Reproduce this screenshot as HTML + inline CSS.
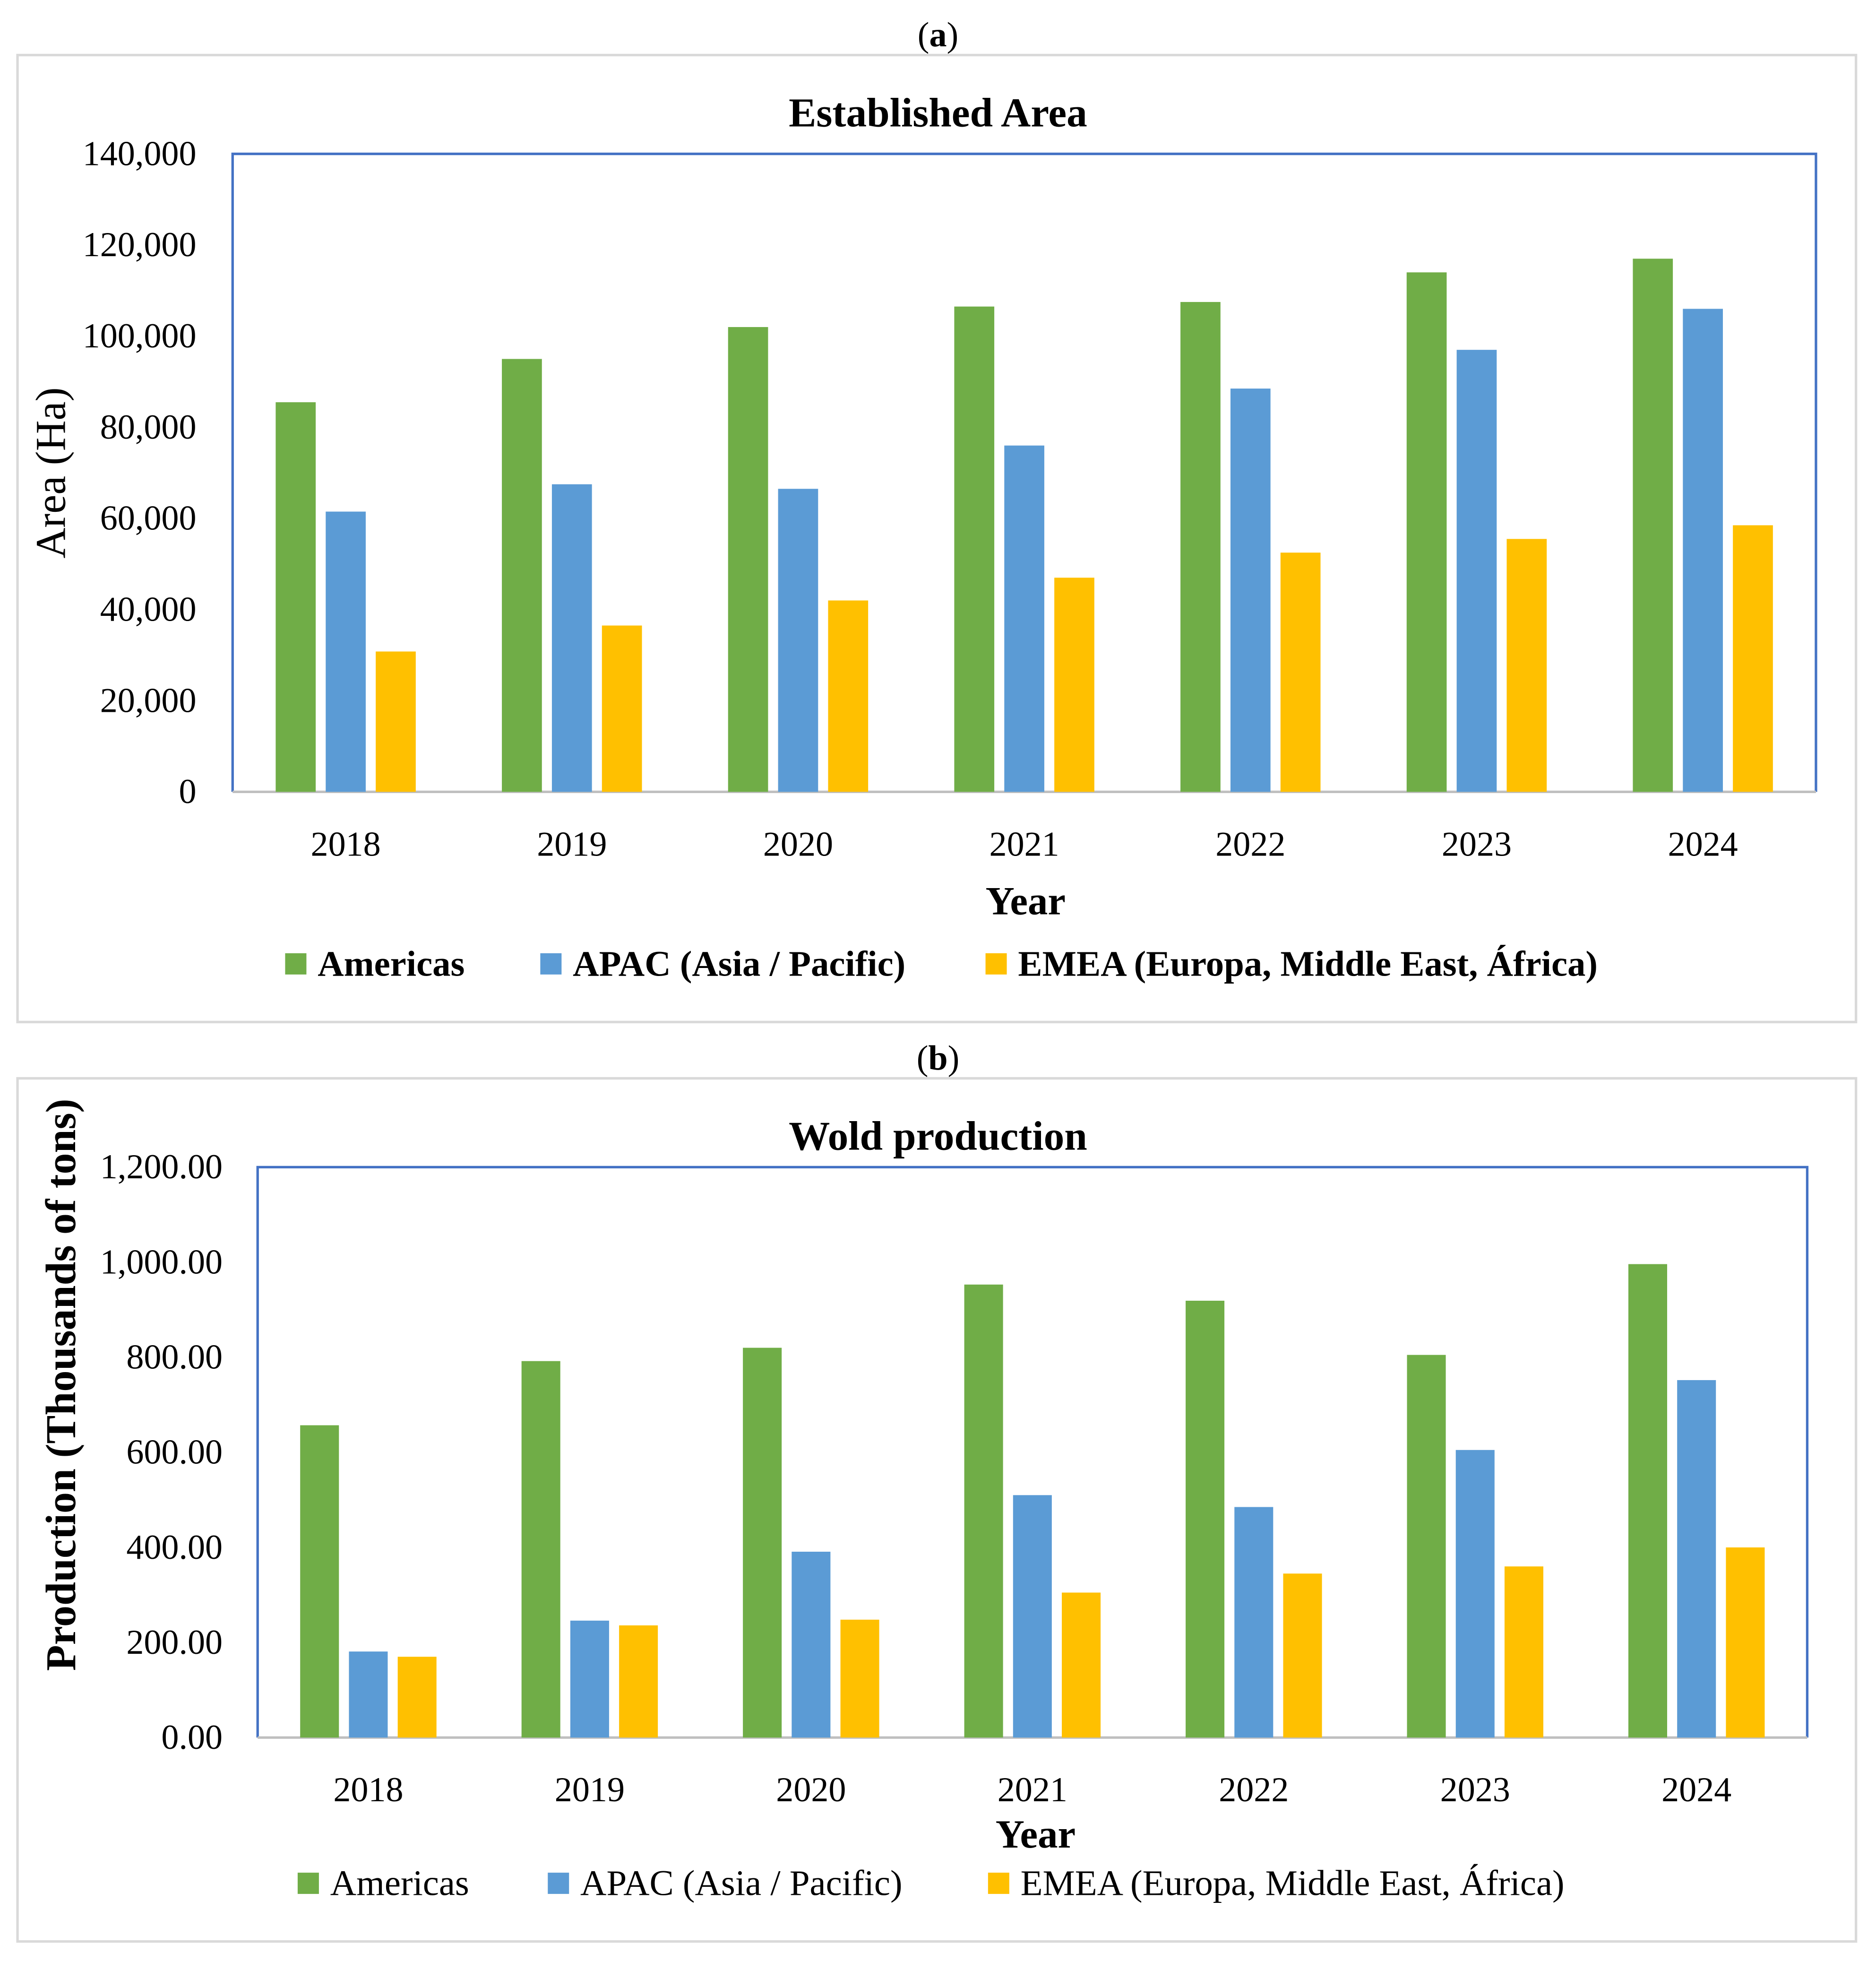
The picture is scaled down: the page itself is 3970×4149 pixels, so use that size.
<!DOCTYPE html>
<html><head><meta charset="utf-8"><style>
html,body{margin:0;padding:0;background:#fff}
svg{display:block;font-family:"Liberation Serif",serif}
</style></head><body>
<svg id="chart" width="3970" height="4149" viewBox="0 0 1500 1567.6" xmlns="http://www.w3.org/2000/svg">
<rect width="1500" height="1567.6" fill="#fff"/>
</svg>
<script>
const years = ["2018","2019","2020","2021","2022","2023","2024"];
const areaAmericas = [85500, 95000, 102000, 106500, 107500, 114000, 117000];
const areaAPAC = [61500, 67500, 66500, 76000, 88500, 97000, 106000];
const areaEMEA = [30800, 36500, 42000, 47000, 52500, 55500, 58500];
const areaTicks = [0,20000,40000,60000,80000,100000,120000,140000];
const prodAmericas = [657, 792, 820, 953, 919, 805, 996];
const prodAPAC = [181, 246, 391, 510, 485, 605, 752];
const prodEMEA = [170, 236, 248, 305, 345, 360, 400];
const prodTicks = [0,200,400,600,800,1000,1200];
const seriesNames = ["Americas","APAC (Asia / Pacific)","EMEA (Europa, Middle East, África)"];
const colors = ["#70AD47","#5B9BD5","#FFC000"];

const svg = document.getElementById('chart');
const NS = "http://www.w3.org/2000/svg";
function mk(tag, attrs, parent, text){
  const e = document.createElementNS(NS, tag);
  for (const k in attrs) e.setAttribute(k, attrs[k]);
  if (text !== undefined) e.textContent = text;
  (parent||svg).appendChild(e);
  return e;
}
function panel(cfg){
  const g = mk('g', {});
  
  
  const box = mk('rect', {x:cfg.box[0], y:cfg.box[1], width:cfg.box[2]-cfg.box[0], height:cfg.box[3]-cfg.box[1], fill:'none', stroke:'#d9d9d9', 'stroke-width':2}, g);
  
  
  const lab = mk('text', {x:750, y:cfg.labelY, 'text-anchor':'middle', 'font-size':28}, g);
  
  
  mk('tspan', {}, lab, '(');
  mk('tspan', {'font-weight':'bold'}, lab, cfg.letter);
  mk('tspan', {}, lab, ')');
  const t = mk('text', {x:750, y:cfg.titleY, 'text-anchor':'middle', 'font-size':33, 'font-weight':'bold'}, g, cfg.title);
  
  
  const [L,T,R,B] = cfg.plot;
  const maxV = cfg.ticks[cfg.ticks.length-1];
  const yS = v => B - (v/maxV)*(B-T);
  const step = (R-L)/years.length;
  const xC = i => L + step*(i+0.5);
  const frame = mk('path', {d:`M${L},${B} L${L},${T} L${R},${T} L${R},${B}`, fill:'none', stroke:'#4472C4', 'stroke-width':2}, g);
  
  
  const xa = mk('line', {x1:L, x2:R, y1:B, y2:B, stroke:'#bfbfbf', 'stroke-width':2}, g);
  
  
  cfg.ticks.forEach(v=>{
    const tl = mk('text', {x:cfg.tickX, y:yS(v)+9, 'text-anchor':'end', 'font-size':28}, g, cfg.fmt(v));
    
    
  });
  cfg.series.forEach((arr, s)=>{
    arr.forEach((v,i)=>{
      const cx = xC(i) + (s-1)*cfg.off;
      const r = mk('rect', {x:cx-cfg.bw/2, y:yS(v), width:cfg.bw, height:B-yS(v), fill:colors[s]}, g);
      
      
    });
  });
  years.forEach((y,i)=>{
    const xl = mk('text', {x:xC(i), y:cfg.xLabY, 'text-anchor':'middle', 'font-size':28}, g, y);
    
    
  });
  const xt = mk('text', {x:cfg.xTitle[0], y:cfg.xTitle[1], 'text-anchor':'middle', 'font-size':32, 'font-weight':'bold'}, g, 'Year');
  
  
  const yt = mk('text', {x:0, y:0, 'text-anchor':'middle', 'font-size':34, 'font-weight':cfg.yBold?'bold':'normal', transform:`translate(${cfg.yTitle[0]},${cfg.yTitle[1]}) rotate(-90)`}, g, cfg.yTitleText);
  
  
  cfg.legX.forEach((lx,s)=>{
    const lg = mk('g', {}, g);
    
    
    mk('rect', {x:lx, y:cfg.legY-18, width:17, height:17, fill:colors[s]}, lg);
    mk('text', {x:lx+26, y:cfg.legY, 'font-size':29, 'font-weight':cfg.legBold?'bold':'normal'}, lg, seriesNames[s]);
  });
}
panel({id:'area', letter:'a', labelY:37, title:'Established Area', titleY:101, box:[14,44,1484,817],
  plot:[186,123,1452,633], ticks:areaTicks, fmt:v=>v.toLocaleString('en-US'), tickX:157,
  series:[areaAmericas, areaAPAC, areaEMEA], bw:32, off:40, xLabY:684, xTitle:[820,731],
  yTitle:[52,378], yTitleText:'Area (Ha)', yBold:false, legX:[228,432,788], legY:780, legBold:true});
panel({id:'production', letter:'b', labelY:855, title:'Wold production', titleY:919, box:[14,862,1484,1552],
  plot:[206,933,1445,1389], ticks:prodTicks, fmt:v=>v.toLocaleString('en-US',{minimumFractionDigits:2,maximumFractionDigits:2}), tickX:178,
  series:[prodAmericas, prodAPAC, prodEMEA], bw:31, off:39, xLabY:1440, xTitle:[828,1477],
  yTitle:[60,1107], yTitleText:'Production (Thousands of tons)', yBold:true, legX:[238,438,790], legY:1515, legBold:false});
</script>
</body></html>
